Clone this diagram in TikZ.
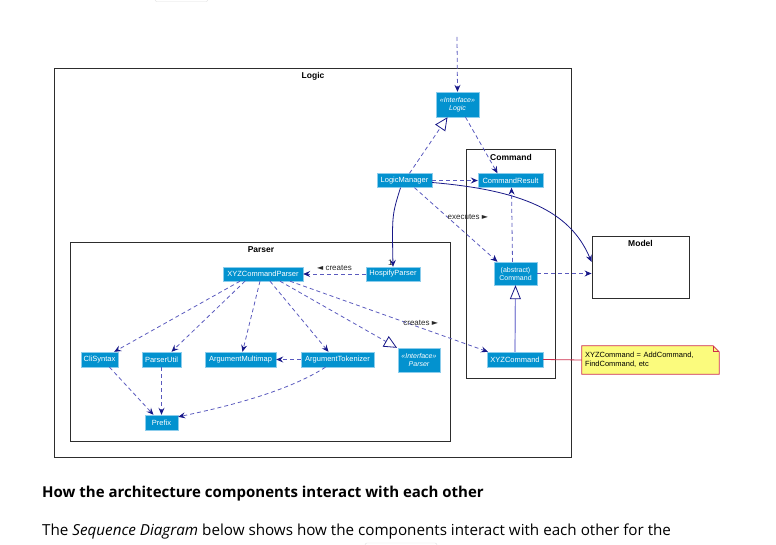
\documentclass[tikz,border=0pt]{standalone}
\usepackage{fontspec}
\setmainfont{Liberation Sans}
\newfontfamily\pagefont{Open Sans}
\newfontfamily\symfont{DejaVu Sans}
\usetikzlibrary{arrows.meta,positioning}
\definecolor{umlblue}{RGB}{3,146,207}
\definecolor{umlrim}{RGB}{140,205,236}
\definecolor{dashblue}{RGB}{90,90,190}
\definecolor{navy}{RGB}{24,24,136}
\definecolor{memofill}{RGB}{251,251,125}
\definecolor{memorim}{RGB}{205,45,75}
\tikzset{
  cls/.style={fill=umlblue, draw=umlrim, text=white, font=\fontsize{7.5}{8.5}\selectfont, inner sep=1pt, minimum height=14pt},
  iface/.style={cls, align=center, font=\itshape\fontsize{7}{8}\selectfont, minimum height=25pt},
  frame/.style={draw={rgb,255:red,45;green,45;blue,45}, line width=0.9pt},
  framelbl/.style={font=\bfseries\fontsize{8.5}{9}\selectfont, inner sep=0pt},
  tip/.style={-{Stealth[length=7pt,width=6pt,inset=2.5pt,color=navy]}},
  dep/.style={tip, draw=dashblue, line width=0.8pt, dash pattern=on 4pt off 3pt},
  assoc/.style={tip, draw=navy, line width=0.8pt},
  real/.style={-{Triangle[open,length=13pt,width=12pt,fill=white,color=navy,line width=0.8pt]}, draw=dashblue, line width=0.8pt, dash pattern=on 4pt off 3pt},
  gen/.style={-{Triangle[open,length=14pt,width=11pt,fill=white,color=navy,line width=0.8pt]}, draw={rgb,255:red,140;green,140;blue,215}, line width=1.2pt},
  lbl/.style={font=\fontsize{8}{9}\selectfont, text={rgb,255:red,40;green,40;blue,40}, inner sep=0pt}
}
\newcommand{\rtri}{{\symfont\fontsize{8}{8}\selectfont ►}}
\newcommand{\ltri}{{\symfont\fontsize{8}{8}\selectfont ◄}}
\begin{document}
\begin{tikzpicture}[x=1pt,y=-1pt]
    \useasboundingbox (0,0) rectangle (776,545);
    % page stubs
    \draw[gray!25, rounded corners=2pt] (155,-6) rectangle (208,1.5);
    \draw[gray!25, rounded corners=2pt] (365,543) rectangle (437,551);

    % packages
    \draw[frame] (54,68) rectangle (571,457);
    \node[framelbl] (logiclbl) at (313,76) {Logic};
    \draw[frame] (466,149) rectangle (555,378);
    \node[framelbl] (commandlbl) at (511,157) {Command};
    \draw[frame] (70,242) rectangle (450,441);
    \node[framelbl] (parserlbl) at (261,250) {Parser};
    \node[frame, minimum width=97pt, minimum height=62pt] (model) at (640.5,267) {};
    \node[framelbl, below=5pt] (modellbl) at (model.north) {Model};

    % logic
    \coordinate (top) at (457,37);
    \node[iface, minimum width=43pt] (logic) at (457.5,104.5) {«Interface»\\Logic};
    \node[cls, minimum width=55pt] (lm) at (404.5,180.5) {LogicManager};
    \node[cls, minimum width=65pt] (cr) at (510.5,180.5) {CommandResult};
    \node[cls, align=center, font=\fontsize{7}{8}\selectfont, minimum width=43pt, minimum height=23pt] (cmd) at (515.5,273.5) {(abstract)\\Command};
    \node[cls, minimum width=56pt, minimum height=15pt] (xyz) at (515,359.5) {XYZCommand};

    % parser
    \node[cls, minimum width=80pt] (xyzp) at (263,274) {XYZCommandParser};
    \node[cls, minimum width=54pt] (hp) at (393,274) {HospifyParser};
    \node[cls, minimum width=37pt, minimum height=15pt] (cli) at (99.5,359.5) {CliSyntax};
    \node[cls, minimum width=39pt, minimum height=15pt] (pu) at (161.5,359.5) {ParserUtil};
    \node[cls, minimum width=71pt, minimum height=15pt] (mm) at (240.5,359.5) {ArgumentMultimap};
    \node[cls, minimum width=73pt, minimum height=15pt] (tok) at (337.5,359.5) {ArgumentTokenizer};
    \node[iface, minimum width=42pt, minimum height=24pt] (pif) at (419,360) {«Interface»\\Parser};
    \node[cls, minimum width=33pt, minimum height=15pt] (prefix) at (161.5,422.5) {Prefix};

    % note
    \node[minimum width=137pt, minimum height=28pt] (memo) at (650.5,360) {};
    \fill[memofill] (memo.north west) -- ([xshift=-6pt]memo.north east) -- ([yshift=-6pt]memo.north east) -- (memo.south east) -- (memo.south west) -- cycle;
    \draw[memorim, line width=0.8pt] (memo.north west) -- ([xshift=-6pt]memo.north east) -- ([yshift=-6pt]memo.north east) -- (memo.south east) -- (memo.south west) -- cycle;
    \draw[memorim, line width=0.8pt] ([xshift=-6pt]memo.north east) |- ([yshift=-6pt]memo.north east);
    \node[align=left, font=\fontsize{7.5}{9}\selectfont, text width=131pt, inner xsep=3pt] (memotext) at (memo) {XYZCommand = AddCommand,\\FindCommand, etc};

    % logic links
    \draw[dep] (top) -- (logic.north);
    \draw[real] ([xshift=5pt]lm.north) -- ([xshift=-10pt]logic.south);
    \draw[dep] ([xshift=8pt]logic.south) -- ([xshift=-13pt]cr.north);
    \draw[dep] (lm.east) -- (cr.west);
    \draw[assoc] ([yshift=-2pt]lm.east) .. controls (520,190) and (570,210) .. ([yshift=5pt]model.west);
    \draw[assoc] ([xshift=-4pt]lm.south) .. controls (392,215) .. (hp.north) node[lbl, at end, above left=1pt and 0pt] {1};
    \draw[dep] ([xshift=10pt]lm.south) -- ([xshift=-18pt]cmd.north) node[lbl, pos=0.45, xshift=16pt, yshift=4pt] {executes \rtri};
    \draw[dep] ([xshift=-3pt]cmd.north) -- ([xshift=1pt]cr.south);
    \draw[dep] (cmd.east) -- (cmd.east -| model.west);
    \draw[gen] (xyz.north) -- (cmd.south);
    \draw[memorim, line width=0.8pt] (xyz.east) -- (memo.west);

    % parser links
    \draw[dep] (hp.west) -- (xyzp.east) node[lbl, midway, above=3pt] {\ltri\ creates};
    \draw[dep] ([xshift=-23pt]xyzp.south) -- ([xshift=-4pt]cli.north east);
    \draw[dep] ([xshift=-18pt]xyzp.south) -- ([xshift=10pt]pu.north);
    \draw[dep] ([xshift=-3pt]xyzp.south) -- ([xshift=2pt]mm.north);
    \draw[dep] ([xshift=7pt]xyzp.south) -- ([xshift=-9pt]tok.north);
    \draw[real] ([xshift=17pt]xyzp.south) -- ([xshift=-22pt]pif.north);
    \draw[dep] ([xshift=27pt]xyzp.south) -- ([xshift=-27pt]xyz.north) node[lbl, pos=0.66, above=2pt] {creates \rtri};
    \draw[dep] (tok.west) -- (mm.east);
    \draw[dep] ([xshift=10pt]cli.south) -- ([xshift=-8pt]prefix.north);
    \draw[dep] (pu.south) -- (prefix.north);
    \draw[dep] ([xshift=-12pt]tok.south) .. controls (290,390) and (235,405) .. ([yshift=-2pt]prefix.north east);

    % page text
    \node[anchor=base west, inner sep=0pt, font=\pagefont\bfseries\fontsize{15}{18}\selectfont] (heading) at (42,497) {How the architecture components interact with each other};
    \node[anchor=base west, inner sep=0pt, font=\pagefont\fontsize{15.2}{18}\selectfont] (intro) at (42,535) {The \textit{Sequence Diagram} below shows how the components interact with each other for the};
\end{tikzpicture}
\end{document}
